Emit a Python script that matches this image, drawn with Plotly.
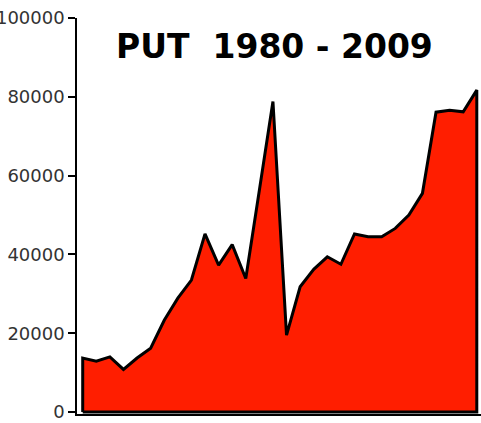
import plotly.graph_objects as go

years = list(range(1980, 2010))
values = [13700, 12900, 14000, 10800, 13700, 16200, 23300, 28900, 33500, 45200,
          37300, 42500, 33900, 56300, 78800, 19500, 31800, 36200, 39400, 37500,
          45200, 44500, 44500, 46600, 50000, 55500, 76100, 76600, 76200, 81700]
tick_vals = [0, 20000, 40000, 60000, 80000, 100000]
tick_text = ["0", "20000", "40000", "60000", "80000", "100000"]
title_text = "PUT  1980 - 2009"

# closed polygon: baseline -> data -> baseline
px = [years[0]] + years + [years[-1], years[0]]
py = [0] + values + [0, 0]

fig = go.Figure()
fig.add_trace(go.Scatter(
    x=px, y=py, mode="lines", fill="toself",
    fillcolor="#ff1e00",
    line=dict(color="black", width=3),
    hoverinfo="skip", showlegend=False,
))

fig.update_layout(
    width=481, height=423,
    margin=dict(l=77, r=0, t=18, b=9),
    paper_bgcolor="white", plot_bgcolor="white",
    showlegend=False,
    annotations=[dict(
        text="<b>" + title_text + "</b>",
        xref="paper", yref="paper",
        x=(274.5 - 77) / 404, y=(414 - 46) / 396,
        xanchor="center", yanchor="middle",
        showarrow=False,
        font=dict(family="DejaVu Sans", size=33, color="black"),
    )],
)
fig.update_xaxes(
    range=[1979.58, 2009.31],
    showgrid=False, zeroline=False, showticklabels=False, ticks="",
    showline=True, linecolor="black", linewidth=1.5,
)
fig.update_yaxes(
    range=[-500, 100000],
    tickvals=tick_vals, ticktext=tick_text,
    showgrid=False, zeroline=False,
    ticks="outside", ticklen=7, tickwidth=1.5, tickcolor="black",
    showline=True, linecolor="black", linewidth=1.5,
    tickfont=dict(family="DejaVu Sans", size=18, color="#333333"),
    automargin=False,
)

fig.write_html(
    "out.html",
    config={"displayModeBar": False},
    post_script="document.body.style.margin='0';document.body.style.overflow='hidden';",
)
